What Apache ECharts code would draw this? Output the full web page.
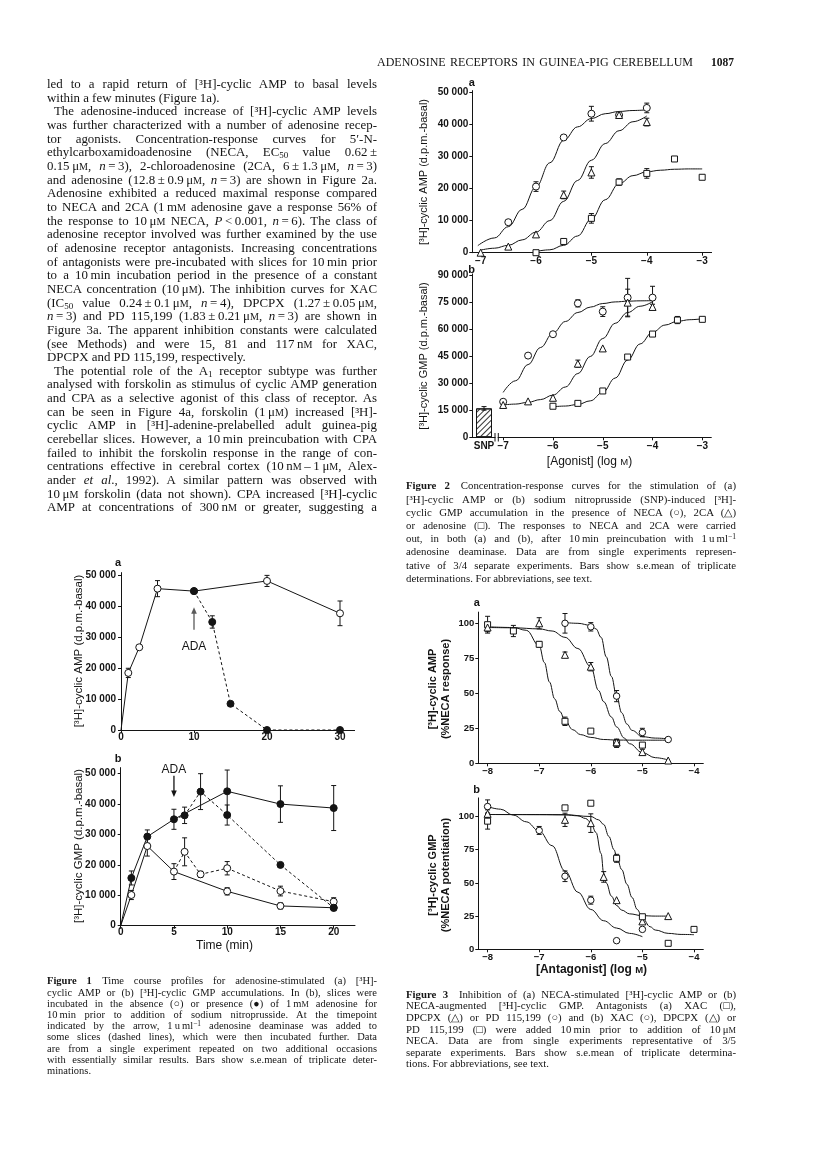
<!DOCTYPE html>
<html lang="en"><head><meta charset="utf-8"><title>Adenosine receptors in guinea-pig cerebellum</title>
<script src="https://cdn.jsdelivr.net/npm/echarts@6/dist/echarts.min.js"></script>
<style>
html,body{margin:0;padding:0;background:#fff;}
#page{position:relative;width:816px;height:1155px;overflow:hidden;background:#fff;}
#chart{position:absolute;left:0;top:0;width:816px;height:1155px;}
.ln{position:absolute;white-space:nowrap;font-family:'Liberation Serif','Times New Roman',Times,serif;color:#141414;}
.ln span.sc{font-size:0.78em;}
.ln sub{font-size:0.7em;vertical-align:-0.25em;line-height:0;}
.ln sup{font-size:0.7em;vertical-align:0.4em;line-height:0;}
</style></head>
<body><div id="page"><div id="chart"></div></div>
<script>
// ---------------- DATA ----------------
// Figure 1a : time course, [3H]-cyclic AMP (d.p.m.-basal)
const fig1aTime        = [0, 1, 2.5, 5, 10, 20, 30];
const fig1aControl     = [0, 18500, 26800, 45800, 45000, 48300, 37800];
const fig1aControlSem  = [0, 1500, 0, 2600, 0, 1800, 4000];
const fig1aAdaTime     = [10, 12.5, 15, 20, 30];
const fig1aAda         = [45000, 35000, 8500, 0, 0];
const fig1aAdaSem      = [0, 2000, 0, 0, 0];
const fig1aXTicks      = [0, 10, 20, 30];
const fig1aYTicks      = [0, 10000, 20000, 30000, 40000, 50000];
const fig1aAdaArrow    = [10, 32500, 39800];   // x, tail, head
const fig1aAdaLabel    = [10, 27000];

// Figure 1b : time course, [3H]-cyclic GMP (d.p.m.-basal)
const fig1bTime             = [0, 1, 2.5, 5, 10, 15, 20];
const fig1bAdenosine        = [0, 15700, 29300, 35000, 44200, 40000, 38700];
const fig1bAdenosineSem     = [0, 2300, 2200, 3300, 7000, 6000, 7400];
const fig1bControl          = [0, 10100, 26200, 17800, 11300, 6500, 5900];
const fig1bControlSem       = [0, 1500, 3300, 2600, 1200, 1000, 800];
const fig1bAdaTime          = [5, 6, 7.5, 10, 15, 20];
const fig1bAdenosineAda     = [35000, 36300, 44100, 36400, 20000, 5900];
const fig1bAdenosineAdaSem  = [0, 2700, 5900, 3300, 0, 1000];
const fig1bControlAda       = [17800, 24300, 16900, 18900, 11400, 7900];
const fig1bControlAdaSem    = [0, 4600, 1000, 2200, 1600, 1300];
const fig1bXTicks           = [0, 5, 10, 15, 20];
const fig1bYTicks           = [0, 10000, 20000, 30000, 40000, 50000];
const fig1bAdaArrow         = [5, 49300, 42300];
const fig1bAdaLabel         = [5, 51200];

// Figure 2a : [3H]-cyclic AMP vs log [agonist]
const fig2aNecaLog   = [-6.5, -6, -5.5, -5, -4.5, -4];
const fig2aNeca      = [9500, 20600, 35900, 43300, 42900, 45100];
const fig2aNecaSem   = [0, 1500, 0, 2300, 0, 1500];
const fig2a2caLog    = [-7, -6.5, -6, -5.5, -5, -4.5, -4];
const fig2a2ca       = [0, 1900, 5700, 18000, 25000, 42900, 40700];
const fig2a2caSem    = [0, 0, 0, 1200, 1800, 0, 1200];
const fig2aAdoLog    = [-6, -5.5, -5, -4.5, -4, -3.5, -3];
const fig2aAdo       = [0, 3500, 10700, 22000, 24700, 29200, 23500];
const fig2aAdoSem    = [0, 0, 1500, 1000, 1500, 0, 0];
const fig2aNecaFitLog = [-7.05, -6.75, -6.5, -6.25, -6, -5.75, -5.5, -5.25, -5, -4.75, -4.5, -4.25, -4];
const fig2aNecaFit    = [2200, 4600, 8100, 13500, 20500, 28000, 35000, 39200, 41800, 43300, 44000, 44300, 44500];
const fig2a2caFitLog  = [-7, -6.75, -6.5, -6.25, -6, -5.75, -5.5, -5.25, -5, -4.75, -4.5, -4.25, -4];
const fig2a2caFit     = [800, 1400, 2300, 4000, 6400, 10000, 16000, 22500, 28800, 34000, 38000, 40800, 42600];
const fig2aAdoFitLog  = [-6, -5.75, -5.5, -5.25, -5, -4.75, -4.5, -4.25, -4, -3.75, -3.5, -3.25, -3];
const fig2aAdoFit     = [400, 900, 2300, 5200, 10500, 16500, 21500, 24000, 25200, 25700, 26000, 26100, 26100];
const fig2XTicks      = [-7, -6, -5, -4, -3];
const fig2aYTicks     = [0, 10000, 20000, 30000, 40000, 50000];

// Figure 2b : SNP-induced [3H]-cyclic GMP vs log [agonist]
const fig2bNecaLog   = [-7, -6.5, -6, -5.5, -5, -4.5, -4];
const fig2bNeca      = [19800, 45500, 57400, 74600, 70000, 77800, 77800];
const fig2bNecaSem   = [0, 0, 0, 2000, 2700, 10700, 6300];
const fig2b2caLog    = [-7, -6.5, -6, -5.5, -5, -4.5, -4];
const fig2b2ca       = [18000, 20000, 22000, 41000, 49500, 75000, 72600];
const fig2b2caSem    = [0, 0, 0, 2000, 0, 7500, 1500];
const fig2bAdoLog    = [-6, -5.5, -5, -4.5, -4, -3.5, -3];
const fig2bAdo       = [17300, 18900, 25800, 44700, 57500, 65300, 65700];
const fig2bAdoSem    = [1000, 0, 0, 0, 0, 2000, 0];
const fig2bFitLog    = [-7, -6.75, -6.5, -6.25, -6, -5.75, -5.5, -5.25, -5, -4.75, -4.5, -4.25, -4];
const fig2bNecaFit   = [25000, 31500, 40500, 50000, 58000, 64500, 69500, 72500, 74500, 75400, 75800, 76000, 76100];
const fig2b2caFit    = [18000, 18500, 19500, 21000, 23500, 28000, 35500, 45000, 55000, 63500, 69500, 73000, 75500];
const fig2bAdoFitLog = [-6, -5.75, -5.5, -5.25, -5, -4.75, -4.5, -4.25, -4, -3.75, -3.5, -3.25, -3];
const fig2bAdoFit    = [17000, 17400, 18300, 20300, 25000, 33000, 43000, 52000, 58500, 62500, 64600, 65500, 66000];
const fig2bSnpPosition = -7.385;
const fig2bSnp       = [16100];
const fig2bSnpSem    = [1000];
const fig2bYTicks    = [0, 15000, 30000, 45000, 60000, 75000, 90000];

// Figure 3a : % NECA response vs log [antagonist]
const fig3aXacLog    = [-8, -7.5, -7, -6.5, -6, -5.5, -5];
const fig3aXac       = [99, 94.5, 85, 30, 23, 14.3, 13];
const fig3aXacSem    = [6, 4, 2, 3, 0, 3, 0];
const fig3aDpcpxLog  = [-8, -7, -6.5, -6, -5.5, -5, -4.5];
const fig3aDpcpx     = [97, 100, 77.5, 69, 15, 8, 2];
const fig3aDpcpxSem  = [3, 4, 2, 3, 2, 2, 0];
const fig3aPdLog     = [-6.5, -6, -5.5, -5, -4.5];
const fig3aPd        = [100, 97.5, 48, 22, 17];
const fig3aPdSem     = [7, 3, 4, 3, 0];
const fig3aXacFitLog   = [-8, -7.5, -7.25, -7, -6.9, -6.8, -6.7, -6.6, -6.5, -6.35, -6.2, -6, -5.75, -5.5, -5, -4.5];
const fig3aXacFit      = [97.5, 97, 95, 84, 72, 58, 46, 37, 30.5, 24, 20.5, 18.5, 17, 16.6, 16.5, 16.5];
const fig3aDpcpxFitLog = [-8, -7.5, -7, -6.75, -6.5, -6.25, -6, -5.85, -5.75, -5.6, -5.5, -5.35, -5.25, -5, -4.75, -4.5];
const fig3aDpcpxFit    = [97, 96.8, 96, 94.5, 90, 82, 69, 52, 44, 33, 26, 18, 14, 7.6, 4, 2.4];
const fig3aPdFitLog    = [-6.5, -6.25, -6, -5.9, -5.8, -5.7, -5.6, -5.5, -5.4, -5.3, -5.2, -5, -4.75, -4.5];
const fig3aPdFit       = [100.5, 100, 98.5, 96, 90, 76, 62, 48, 36, 28, 23.5, 19, 18, 17.5];
const fig3XTicks       = [-8, -7, -6, -5, -4];
const fig3YTicks       = [0, 25, 50, 75, 100];

// Figure 3b : % NECA potentiation vs log [antagonist]
const fig3bXacLog    = [-8, -7, -6.5, -6, -5.5, -5];
const fig3bXac       = [107.5, 89.5, 55, 37, 6.5, 15];
const fig3bXacSem    = [5, 3, 4, 3, 0, 0];
const fig3bDpcpxLog  = [-8, -6.5, -6, -5.75, -5.5, -5, -4.5];
const fig3bDpcpx     = [102, 97.5, 95, 54.5, 37, 21, 25];
const fig3bDpcpxSem  = [3, 5, 7, 4, 0, 0, 0];
const fig3bPdLog     = [-8, -6.5, -6, -5.5, -5, -4.5, -4];
const fig3bPd        = [96.5, 106.5, 110, 68.5, 24.5, 4.5, 15];
const fig3bPdSem     = [6, 0, 0, 3, 0, 0, 0];
const fig3bXacFitLog   = [-8, -7.75, -7.5, -7.25, -7, -6.75, -6.5, -6.25, -6, -5.75, -5.5, -5.25, -5];
const fig3bXacFit      = [107.5, 105.5, 101, 96, 89, 78, 59, 43, 30, 21.5, 16, 12, 9.5];
const fig3bDpcpxFitLog = [-8, -7, -6.5, -6.25, -6.1, -6, -5.9, -5.8, -5.75, -5.7, -5.6, -5.5, -5.4, -5.25, -5, -4.75, -4.5];
const fig3bDpcpxFit    = [101.5, 101.5, 101.3, 100.5, 98.5, 95.5, 88, 72, 57, 50, 40, 33, 29.5, 26.7, 25.3, 25, 25];
const fig3bPdFitLog    = [-8, -6.5, -6, -5.85, -5.75, -5.65, -5.55, -5.5, -5.4, -5.3, -5.2, -5.1, -5, -4.85, -4.75, -4.5, -4.25, -4];
const fig3bPdFit       = [101.5, 101.3, 100, 97.5, 94, 85, 75, 70, 60, 49, 39, 30, 23.5, 17, 14.5, 12, 11.2, 11];

// ---------------- TEXT ----------------
const headerTitle = 'ADENOSINE RECEPTORS IN GUINEA-PIG CEREBELLUM';
const headerPage = '1087';
const bodyLines = [
['J','led to a rapid return of [³H]-cyclic AMP to basal levels'],
['L','within a few minutes (Figure 1a).'],
['I','The adenosine-induced increase of [³H]-cyclic AMP levels'],
['J','was further characterized with a number of adenosine recep-'],
['J','tor agonists. Concentration-response curves for 5′-N-'],
['J','ethylcarboxamidoadenosine (NECA, EC<sub>50</sub> value 0.62\u2009±'],
['J','0.15\u2009μM, <i>n</i>\u2009=\u20093), 2-chloroadenosine (2CA, 6\u2009±\u20091.3\u2009μM, <i>n</i>\u2009=\u20093)'],
['J','and adenosine (12.8\u2009±\u20090.9\u2009μM, <i>n</i>\u2009=\u20093) are shown in Figure 2a.'],
['J','Adenosine exhibited a reduced maximal response compared'],
['J','to NECA and 2CA (1\u2009mM adenosine gave a response 56% of'],
['J','the response to 10\u2009μM NECA, <i>P</i>\u2009&lt;\u20090.001, <i>n</i>\u2009=\u20096). The class of'],
['J','adenosine receptor involved was further examined by the use'],
['J','of adenosine receptor antagonists. Increasing concentrations'],
['J','of antagonists were pre-incubated with slices for 10\u2009min prior'],
['J','to a 10\u2009min incubation period in the presence of a constant'],
['J','NECA concentration (10\u2009μM). The inhibition curves for XAC'],
['J','(IC<sub>50</sub> value 0.24\u2009±\u20090.1\u2009μM, <i>n</i>\u2009=\u20094), DPCPX (1.27\u2009±\u20090.05\u2009μM,'],
['J','<i>n</i>\u2009=\u20093) and PD 115,199 (1.83\u2009±\u20090.21\u2009μM, <i>n</i>\u2009=\u20093) are shown in'],
['J','Figure 3a. The apparent inhibition constants were calculated'],
['J','(see Methods) and were 15, 81 and 117\u2009nM for XAC,'],
['L','DPCPX and PD 115,199, respectively.'],
['I','The potential role of the A<sub>1</sub> receptor subtype was further'],
['J','analysed with forskolin as stimulus of cyclic AMP generation'],
['J','and CPA as a selective agonist of this class of receptor. As'],
['J','can be seen in Figure 4a, forskolin (1\u2009μM) increased [³H]-'],
['J','cyclic AMP in [³H]-adenine-prelabelled adult guinea-pig'],
['J','cerebellar slices. However, a 10\u2009min preincubation with CPA'],
['J','failed to inhibit the forskolin response in the range of con-'],
['J','centrations effective in cerebral cortex (10\u2009nM\u2009–\u20091\u2009μM, Alex-'],
['J','ander <i>et al</i>., 1992). A similar pattern was observed with'],
['J','10\u2009μM forskolin (data not shown). CPA increased [³H]-cyclic'],
['J','AMP at concentrations of 300\u2009nM or greater, suggesting a']
];
const fig1Caption = [
['J','<b>Figure 1</b>\u2003Time course profiles for adenosine-stimulated (a) [³H]-'],
['J','cyclic AMP or (b) [³H]-cyclic GMP accumulations. In (b), slices were'],
['J','incubated in the absence (○) or presence (●) of 1\u2009mM adenosine for'],
['J','10\u2009min prior to addition of sodium nitroprusside. At the timepoint'],
['J','indicated by the arrow, 1\u2009u\u2009ml<sup>−1</sup> adenosine deaminase was added to'],
['J','some slices (dashed lines), which were then incubated further. Data'],
['J','are from a single experiment repeated on two additional occasions'],
['J','with essentially similar results. Bars show s.e.mean of triplicate deter-'],
['L','minations.']
];
const fig2Caption = [
['J','<b>Figure 2</b>\u2003Concentration-response curves for the stimulation of (a)'],
['J','[³H]-cyclic AMP or (b) sodium nitroprusside (SNP)-induced [³H]-'],
['J','cyclic GMP accumulation in the presence of NECA (○), 2CA (△)'],
['J','or adenosine (□). The responses to NECA and 2CA were carried'],
['J','out, in both (a) and (b), after 10\u2009min preincubation with 1\u2009u\u2009ml<sup>−1</sup>'],
['J','adenosine deaminase. Data are from single experiments represen-'],
['J','tative of 3/4 separate experiments. Bars show s.e.mean of triplicate'],
['L','determinations. For abbreviations, see text.']
];
const fig3Caption = [
['J','<b>Figure 3</b>\u2003Inhibition of (a) NECA-stimulated [³H]-cyclic AMP or (b)'],
['J','NECA-augmented [³H]-cyclic GMP. Antagonists (a) XAC (□),'],
['J','DPCPX (△) or PD 115,199 (○) and (b) XAC (○), DPCPX (△) or'],
['J','PD 115,199 (□) were added 10\u2009min prior to addition of 10\u2009μM'],
['J','NECA. Data are from single experiments representative of 3/5'],
['J','separate experiments. Bars show s.e.mean of triplicate determina-'],
['L','tions. For abbreviations, see text.']
];

// ---------------- TEXT LAYOUT ----------------
const page = document.getElementById('page');
const placed = [];
function unitFmt(s){ return s.replace(/(μ|\bm|\bn)M\b/g, '$1<span class="sc">M</span>'); }
function addLine(html, left, width, cy, lh, fs, justify){
  const d = document.createElement('div');
  d.className = 'ln';
  d.style.left = left + 'px';
  d.style.top = (cy - lh / 2) + 'px';
  d.style.fontSize = fs + 'px';
  d.style.lineHeight = lh + 'px';
  const s = document.createElement('span');
  s.style.display = 'inline-block';
  s.style.transformOrigin = '0 50%';
  s.innerHTML = unitFmt(html);
  d.appendChild(s);
  page.appendChild(d);
  placed.push({s, width, justify});
}
function block(lines, cfg){
  lines.forEach((ln, i) => {
    const ind = ln[0] === 'I' ? cfg.indent : 0;
    addLine(ln[1], cfg.left + ind, cfg.width - ind, cfg.y0 + i * cfg.step, cfg.step, cfg.fs, ln[0] !== 'L');
  });
}
function justifyAll(){
  placed.forEach(p => {
    p.s.style.wordSpacing = '0px';
    p.s.style.transform = 'none';
    const w = p.s.getBoundingClientRect().width;
    if (w > p.width) { p.s.style.transform = 'scaleX(' + (p.width / w) + ')'; return; }
    if (!p.justify) return;
    const n = (p.s.textContent.match(/ /g) || []).length;
    if (n > 0) p.s.style.wordSpacing = ((p.width - w) / n) + 'px';
  });
}
addLine(headerTitle, 377, 316, 62, 14, 12, true);
addLine('<b>' + headerPage + '</b>', 711, 40, 62, 14, 11.5, false);
block(bodyLines,  {left:47,  width:330, y0:85,    step:13.65, fs:12.9, indent:7});
block(fig1Caption,{left:47,  width:330, y0:981,   step:11.2,  fs:10.5, indent:0});
block(fig2Caption,{left:406, width:330, y0:486,   step:13.2,  fs:10.8, indent:0});
block(fig3Caption,{left:406, width:330, y0:994.5, step:11.6,  fs:10.8, indent:0});
justifyAll();
if (document.fonts && document.fonts.ready) document.fonts.ready.then(justifyAll);

// ---------------- CHART ----------------
const INK = '#141414';
const SANS = "'Liberation Sans', Arial, Helvetica, sans-serif";
const zip  = (xs, ys) => xs.map((x, i) => [x, ys[i]]);
const zip3 = (xs, ys, es) => xs.map((x, i) => [x, ys[i], es[i]]).filter(d => d[2] > 0);
const fmtK = v => v === 0 ? '0' : String(v).replace(/\B(?=(\d{3})+(?!\d))/g, ' ');
const fmtLog = v => v < 0 ? '\u2212' + Math.abs(v) : String(v);

const grids = [
  {left:121,   top:572.6, width:233.6, height:157.4},
  {left:120.7, top:767.6, width:234.3, height:158.1},
  {left:472.3, top:90.6,  width:239.3, height:162.1},
  {left:472.3, top:273.9, width:239.0, height:163.4},
  {left:478.3, top:612.1, width:225.0, height:151.2},
  {left:478.3, top:797.9, width:225.0, height:151.4}
];

function axis(g, min, max, ticks, fmt, fs, margin, labelVals){
  return {
    type:'value', gridIndex:g, min:min, max:max,
    axisLine:{show:true, onZero:false, lineStyle:{color:INK, width:1}},
    axisTick:{show:true, inside:false, length:3, lineStyle:{color:INK, width:1}, customValues:ticks},
    axisLabel:{show:true, customValues:labelVals || ticks, formatter:fmt, fontSize:fs, fontWeight:'bold',
               fontFamily:SANS, color:INK, margin:margin},
    splitLine:{show:false}, minorTick:{show:false}, minorSplitLine:{show:false}
  };
}
function errRender(params, api){
  const x = api.value(0), y = api.value(1), e = api.value(2);
  const p1 = api.coord([x, y + e]), p2 = api.coord([x, y - e]);
  const h = 2.5, st = {stroke:INK, lineWidth:1};
  return {type:'group', children:[
    {type:'line', shape:{x1:p1[0], y1:p1[1], x2:p2[0], y2:p2[1]}, style:st},
    {type:'line', shape:{x1:p1[0]-h, y1:p1[1], x2:p1[0]+h, y2:p1[1]}, style:st},
    {type:'line', shape:{x1:p2[0]-h, y1:p2[1], x2:p2[0]+h, y2:p2[1]}, style:st}
  ]};
}
const lineS = (g, xs, ys, dashed, smooth) => ({
  type:'line', xAxisIndex:g, yAxisIndex:g, data:zip(xs, ys), symbol:'none', showSymbol:false,
  smooth: smooth ? 0.4 : false, smoothMonotone: smooth ? 'x' : null, clip:false,
  lineStyle:{color:INK, width:1, type: dashed ? [3, 2.5] : 'solid'}, z:2, silent:true, animation:false
});
const markS = (g, xs, ys, shape, filled, size) => ({
  type:'scatter', xAxisIndex:g, yAxisIndex:g, data:zip(xs, ys), symbol:shape, symbolSize:size, clip:false,
  itemStyle:{color: filled ? INK : '#fff', borderColor:INK, borderWidth:1, opacity:1}, z:5, silent:true, animation:false
});
const errS = (g, xs, ys, es) => ({
  type:'custom', xAxisIndex:g, yAxisIndex:g, coordinateSystem:'cartesian2d', data:zip3(xs, ys, es),
  encode:{x:0, y:1}, renderItem:errRender, z:4, silent:true, animation:false, clip:false
});
function adaLabel(label){
  return {
    markPoint:{silent:true, animation:false, symbol:'circle', symbolSize:0, itemStyle:{color:'transparent'},
      label:{show:true, position:'inside', formatter:'ADA', color:INK, fontSize:12, fontFamily:SANS},
      data:[{coord:label}]}
  };
}

const series = [];
// Fig 1a
series.push(lineS(0, fig1aTime, fig1aControl, false, false));
series.push(Object.assign(lineS(0, fig1aAdaTime, fig1aAda, true, false), adaLabel(fig1aAdaLabel)));
series.push(errS(0, fig1aTime, fig1aControl, fig1aControlSem));
series.push(errS(0, fig1aAdaTime, fig1aAda, fig1aAdaSem));
series.push(markS(0, fig1aTime.slice(1), fig1aControl.slice(1), 'circle', false, 7));
series.push(markS(0, fig1aAdaTime, fig1aAda, 'circle', true, 7));
// Fig 1b
series.push(Object.assign(lineS(1, fig1bTime, fig1bAdenosine, false, false), adaLabel(fig1bAdaLabel)));
series.push(lineS(1, fig1bTime, fig1bControl, false, false));
series.push(lineS(1, fig1bAdaTime, fig1bAdenosineAda, true, false));
series.push(lineS(1, fig1bAdaTime, fig1bControlAda, true, false));
series.push(errS(1, fig1bTime, fig1bAdenosine, fig1bAdenosineSem));
series.push(errS(1, fig1bTime, fig1bControl, fig1bControlSem));
series.push(errS(1, fig1bAdaTime, fig1bAdenosineAda, fig1bAdenosineAdaSem));
series.push(errS(1, fig1bAdaTime, fig1bControlAda, fig1bControlAdaSem));
series.push(markS(1, fig1bTime.slice(1), fig1bControl.slice(1), 'circle', false, 7));
series.push(markS(1, fig1bAdaTime.slice(1), fig1bControlAda.slice(1), 'circle', false, 7));
series.push(markS(1, fig1bTime.slice(1), fig1bAdenosine.slice(1), 'circle', true, 7));
series.push(markS(1, fig1bAdaTime.slice(1), fig1bAdenosineAda.slice(1), 'circle', true, 7));
// Fig 2a
series.push(lineS(2, fig2aNecaFitLog, fig2aNecaFit, false, true));
series.push(lineS(2, fig2a2caFitLog, fig2a2caFit, false, true));
series.push(lineS(2, fig2aAdoFitLog, fig2aAdoFit, false, true));
series.push(errS(2, fig2aNecaLog, fig2aNeca, fig2aNecaSem));
series.push(errS(2, fig2a2caLog, fig2a2ca, fig2a2caSem));
series.push(errS(2, fig2aAdoLog, fig2aAdo, fig2aAdoSem));
series.push(markS(2, fig2aNecaLog, fig2aNeca, 'circle', false, 7));
series.push(markS(2, fig2a2caLog, fig2a2ca, 'triangle', false, 7));
series.push(markS(2, fig2aAdoLog, fig2aAdo, 'rect', false, 6));
// Fig 2b
series.push({type:'bar', xAxisIndex:3, yAxisIndex:3, data:zip([fig2bSnpPosition], fig2bSnp), barWidth:16,
  silent:true, animation:false, z:3,
  itemStyle:{color:'#fff', borderColor:INK, borderWidth:1,
    decal:{symbol:'rect', symbolSize:1, color:'#333', backgroundColor:null, dashArrayX:[1, 0], dashArrayY:[1, 2.2], rotation:-Math.PI / 4}}});
series.push(errS(3, [fig2bSnpPosition], fig2bSnp, fig2bSnpSem));
series.push(lineS(3, fig2bFitLog, fig2bNecaFit, false, true));
series.push(lineS(3, fig2bFitLog, fig2b2caFit, false, true));
series.push(lineS(3, fig2bAdoFitLog, fig2bAdoFit, false, true));
series.push(errS(3, fig2bNecaLog, fig2bNeca, fig2bNecaSem));
series.push(errS(3, fig2b2caLog, fig2b2ca, fig2b2caSem));
series.push(errS(3, fig2bAdoLog, fig2bAdo, fig2bAdoSem));
series.push(markS(3, fig2bNecaLog, fig2bNeca, 'circle', false, 7));
series.push(markS(3, fig2b2caLog, fig2b2ca, 'triangle', false, 7));
series.push(markS(3, fig2bAdoLog, fig2bAdo, 'rect', false, 6));
// Fig 3a
series.push(lineS(4, fig3aXacFitLog, fig3aXacFit, false, true));
series.push(lineS(4, fig3aDpcpxFitLog, fig3aDpcpxFit, false, true));
series.push(lineS(4, fig3aPdFitLog, fig3aPdFit, false, true));
series.push(errS(4, fig3aXacLog, fig3aXac, fig3aXacSem));
series.push(errS(4, fig3aDpcpxLog, fig3aDpcpx, fig3aDpcpxSem));
series.push(errS(4, fig3aPdLog, fig3aPd, fig3aPdSem));
series.push(markS(4, fig3aXacLog, fig3aXac, 'rect', false, 6));
series.push(markS(4, fig3aDpcpxLog, fig3aDpcpx, 'triangle', false, 7));
series.push(markS(4, fig3aPdLog, fig3aPd, 'circle', false, 6.5));
// Fig 3b
series.push(lineS(5, fig3bXacFitLog, fig3bXacFit, false, true));
series.push(lineS(5, fig3bDpcpxFitLog, fig3bDpcpxFit, false, true));
series.push(lineS(5, fig3bPdFitLog, fig3bPdFit, false, true));
series.push(errS(5, fig3bXacLog, fig3bXac, fig3bXacSem));
series.push(errS(5, fig3bDpcpxLog, fig3bDpcpx, fig3bDpcpxSem));
series.push(errS(5, fig3bPdLog, fig3bPd, fig3bPdSem));
series.push(markS(5, fig3bXacLog, fig3bXac, 'circle', false, 6.5));
series.push(markS(5, fig3bDpcpxLog, fig3bDpcpx, 'triangle', false, 7));
series.push(markS(5, fig3bPdLog, fig3bPd, 'rect', false, 6));

const ROT = Math.PI / 2;
const scRich = (fw) => ({sc:{fontSize:9.5, fontFamily:SANS, fontWeight:fw, fill:INK}});
function T(text, x, y, o){
  o = o || {};
  const st = {text:text, fill:INK, fontSize:o.fs || 11, fontFamily:SANS, fontWeight:o.fw || 'normal',
              align:'center', verticalAlign:'middle'};
  if (o.lh) st.lineHeight = o.lh;
  if (o.rich) st.rich = o.rich;
  return {type:'text', x:x, y:y, rotation:o.rot || 0, silent:true, z:100, style:st};
}
const graphic = [
  T('a', 118, 563, {fs:11, fw:'bold'}),
  T('b', 118, 759, {fs:11, fw:'bold'}),
  T('a', 471.7, 83.3, {fs:11, fw:'bold'}),
  T('b', 471.7, 270, {fs:11, fw:'bold'}),
  T('a', 476.7, 603.3, {fs:11, fw:'bold'}),
  T('b', 476.7, 790, {fs:11, fw:'bold'}),
  T('[³H]-cyclic AMP (d.p.m.-basal)', 78.5, 651, {rot:ROT, fs:11.5}),
  T('[³H]-cyclic GMP (d.p.m.-basal)', 78.5, 846, {rot:ROT, fs:11.5}),
  T('[³H]-cyclic AMP (d.p.m.-basal)', 424, 172, {rot:ROT, fs:11}),
  T('[³H]-cyclic GMP (d.p.m.-basal)', 424, 356, {rot:ROT, fs:11}),
  T('[³H]-cyclic AMP\n(%NECA response)', 439.5, 689, {rot:ROT, fs:11, fw:'bold', lh:13}),
  T('[³H]-cyclic GMP\n(%NECA potentiation)', 439.5, 875, {rot:ROT, fs:11, fw:'bold', lh:13}),
  T('Time (min)', 224.5, 946, {fs:12}),
  T('[Agonist] (log {sc|M})', 589.5, 462, {fs:12, rich:scRich('normal')}),
  T('[Antagonist] (log {sc|M})', 591.5, 970, {fs:12, fw:'bold', rich:scRich('bold')}),
  {type:'rect', shape:{x:495.5, y:435.5, width:2.2, height:3.5}, style:{fill:'#fff'}, z:99, silent:true},
  {type:'line', shape:{x1:495, y1:433, x2:495, y2:441.5}, style:{stroke:INK, lineWidth:1}, z:100, silent:true},
  {type:'line', shape:{x1:498.3, y1:433, x2:498.3, y2:441.5}, style:{stroke:INK, lineWidth:1}, z:100, silent:true}
];

const chart = echarts.init(document.getElementById('chart'), null, {renderer:'canvas'});
chart.setOption({
  animation:false,
  backgroundColor:'transparent',
  textStyle:{fontFamily:SANS},
  grid: grids.map(g => Object.assign({containLabel:false, outerBoundsMode:'none'}, g)),
  xAxis:[
    axis(0, 0, 32, fig1aXTicks, v => String(v), 10, 2),
    axis(1, 0, 22, fig1bXTicks, v => String(v), 10, 2),
    axis(2, -7.15, -2.83, fig2XTicks, fmtLog, 10, 4),
    axis(3, -7.62, -2.82, fig2XTicks, v => (v < -7.2 ? 'SNP' : fmtLog(v)), 10, 4, [fig2bSnpPosition].concat(fig2XTicks)),
    axis(4, -8.18, -3.82, fig3XTicks, fmtLog, 9.5, 3),
    axis(5, -8.18, -3.82, fig3XTicks, fmtLog, 9.5, 3)
  ],
  yAxis:[
    axis(0, 0, 51000, fig1aYTicks, fmtK, 10, 5),
    axis(1, 0, 52000, fig1bYTicks, fmtK, 10, 5),
    axis(2, 0, 50500, fig2aYTicks, fmtK, 10, 4),
    axis(3, 0, 91000, fig2bYTicks, fmtK, 10, 4),
    axis(4, 0, 108, fig3YTicks, v => String(v), 9.5, 4),
    axis(5, 0, 114, fig3YTicks, v => String(v), 9.5, 4)
  ],
  series: series,
  graphic: graphic
});

// ADA arrows placed through the axes' own scales
function arrowEls(g, arr, color){
  const tail = chart.convertToPixel({gridIndex:g}, [arr[0], arr[1]]);
  const tip  = chart.convertToPixel({gridIndex:g}, [arr[0], arr[2]]);
  const dx = tip[0] - tail[0], dy = tip[1] - tail[1], L = Math.hypot(dx, dy) || 1;
  const ux = dx / L, uy = dy / L, hl = 6.5, hw = 2.8;
  const bx = tip[0] - ux * hl, by = tip[1] - uy * hl;
  return [
    {type:'line', shape:{x1:tail[0], y1:tail[1], x2:bx + ux, y2:by + uy}, style:{stroke:color, lineWidth:1.3}, z:100, silent:true},
    {type:'polygon', shape:{points:[[tip[0], tip[1]], [bx - uy * hw, by + ux * hw], [bx + uy * hw, by - ux * hw]]},
     style:{fill:color}, z:100, silent:true}
  ];
}
chart.setOption({graphic: graphic.concat(arrowEls(0, fig1aAdaArrow, '#5a5a5a'), arrowEls(1, fig1bAdaArrow, INK))});
</script>
</body></html>
